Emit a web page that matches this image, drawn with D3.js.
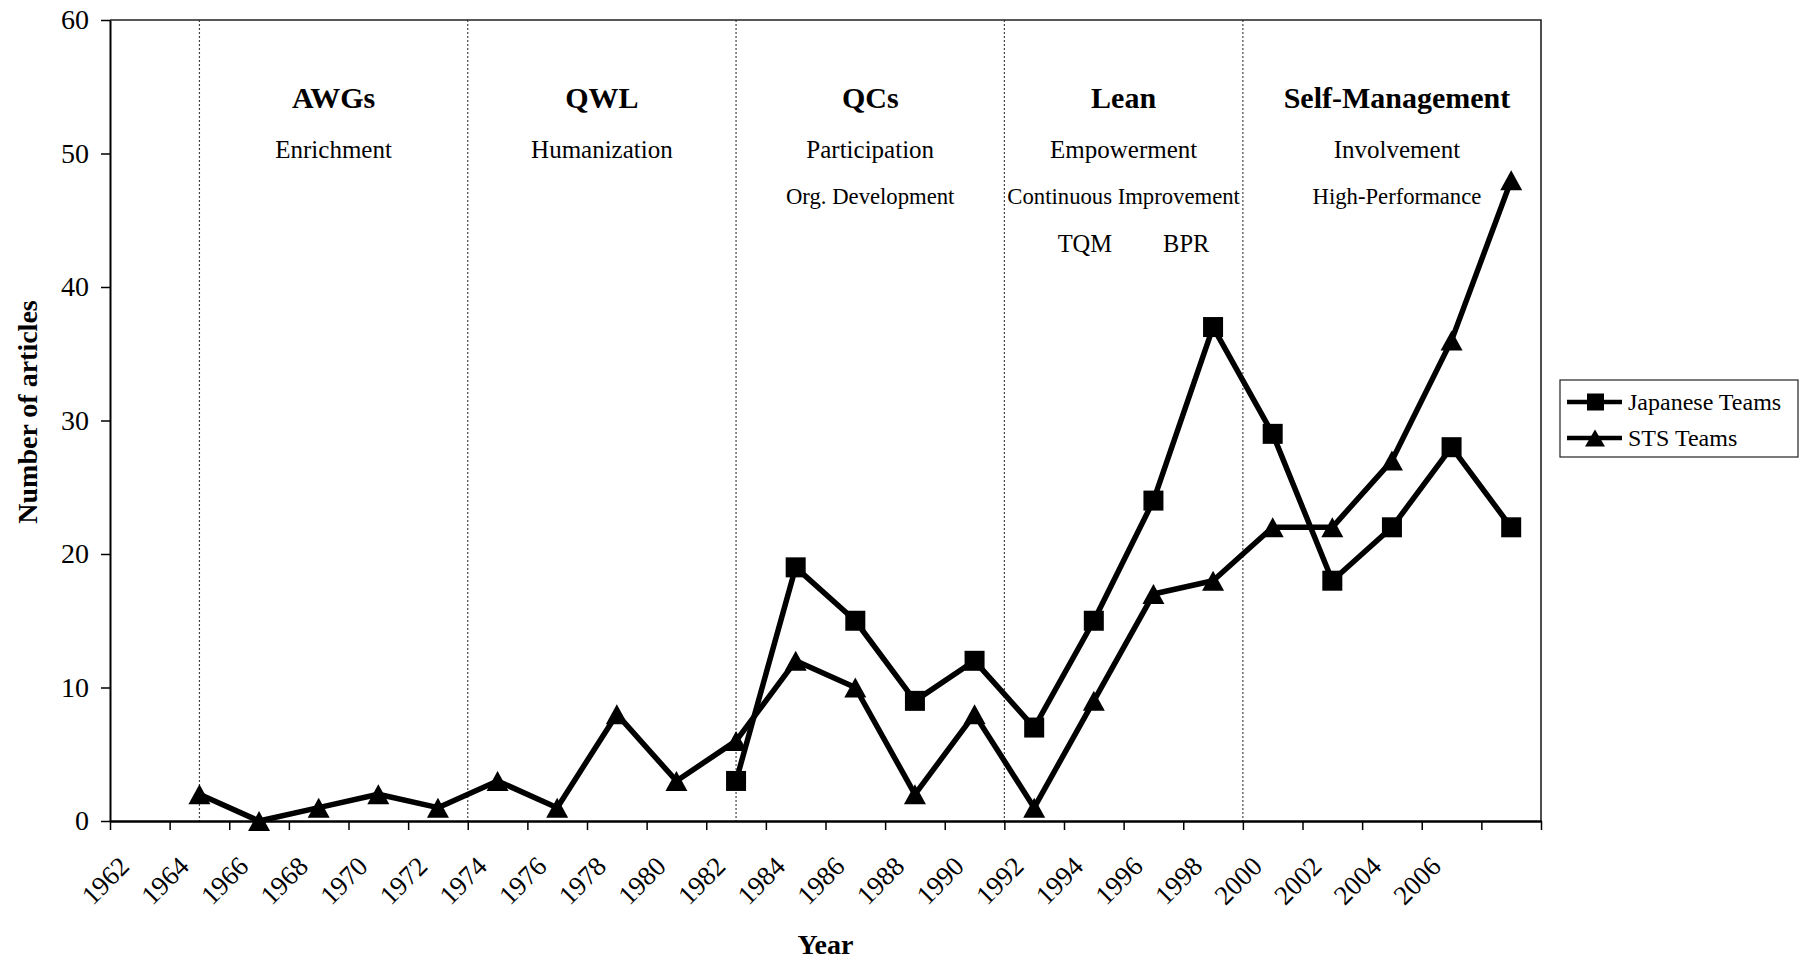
<!DOCTYPE html>
<html>
<head>
<meta charset="utf-8">
<script src="https://cdn.jsdelivr.net/npm/d3@7"></script>
<style>
  body { margin: 0; background: #fff; }
  svg { display: block; font-family: "Liberation Serif", "Times New Roman", serif; }
</style>
</head>
<body>
<div id="chart"></div>
<script>
// Categories (two-year steps), the last one carries no label
const years = [1962, 1964, 1966, 1968, 1970, 1972, 1974, 1976, 1978, 1980, 1982, 1984,
               1986, 1988, 1990, 1992, 1994, 1996, 1998, 2000, 2002, 2004, 2006, 2008];
const tickLabels = ["1962", "1964", "1966", "1968", "1970", "1972", "1974", "1976", "1978", "1980",
                    "1982", "1984", "1986", "1988", "1990", "1992", "1994", "1996", "1998", "2000",
                    "2002", "2004", "2006", ""];

// Number of articles per category
const japaneseTeams = [null, null, null, null, null, null, null, null, null, null,
                       3, 19, 15, 9, 12, 7, 15, 24, 37, 29, 18, 22, 28, 22];
const stsTeams = [null, 2, 0, 1, 2, 1, 3, 1, 8, 3, 6, 12, 10, 2, 8, 1, 9, 17, 18, 22, 22, 27, 36, 48];

const yTicks = [0, 10, 20, 30, 40, 50, 60];

// Eras: start year of each era, the chart ends in 2010
const eraStarts = [1965, 1974, 1983, 1992, 2000];
const eraTitles = ["AWGs", "QWL", "QCs", "Lean", "Self-Management"];
const eraThemes = [
    ["Enrichment"],
    ["Humanization"],
    ["Participation", "Org. Development"],
    ["Empowerment", "Continuous Improvement"],
    ["Involvement", "High-Performance"]
];
const leanExtras = ["TQM", "BPR"];
const leanExtraYears = [1994.7, 1998.1];

const W = 1803, H = 963;
const margin = { top: 20, right: 262, bottom: 142, left: 110 };
const width = W - margin.left - margin.right;
const height = H - margin.top - margin.bottom;

const svg = d3.select("#chart").append("svg")
    .attr("width", W)
    .attr("height", H);

const g = svg.append("g")
    .attr("transform", `translate(${margin.left},${margin.top})`);

const idx = d3.range(years.length);
const x = d3.scaleBand().domain(idx).range([0, width]);
const xEdge = d3.scaleLinear().domain([0, years.length]).range([0, width]);
const xYear = d3.scaleLinear().domain([1962, 2010]).range([0, width]);
const y = d3.scaleLinear().domain([0, 60]).range([height, 0]);
const cx = i => x(i) + x.bandwidth() / 2;

// Era dividers (dotted)
g.append("g").selectAll("line")
    .data(eraStarts)
    .join("line")
    .attr("x1", d => xYear(d)).attr("x2", d => xYear(d))
    .attr("y1", 0).attr("y2", height)
    .attr("stroke", "#444")
    .attr("stroke-width", 1.2)
    .attr("stroke-dasharray", "2,2");

// Era annotations
const eraEnds = eraStarts.slice(1).concat([2010]);
const eraMid = i => xYear((eraStarts[i] + eraEnds[i]) / 2) + (i === 4 ? 5 : 0);
const lineBase = [158, 204];
const ann = g.append("g").attr("fill", "#000").attr("text-anchor", "middle");
eraTitles.forEach((t, i) => {
    ann.append("text")
        .attr("x", eraMid(i)).attr("y", 108 - margin.top)
        .attr("font-size", 30).attr("font-weight", "bold")
        .text(t);
    eraThemes[i].forEach((s, j) => {
        ann.append("text")
            .attr("x", eraMid(i)).attr("y", lineBase[j] - margin.top)
            .attr("font-size", j === 0 ? 25 : 22.7)
            .text(s);
    });
});
leanExtras.forEach((s, i) => {
    ann.append("text")
        .attr("x", xYear(leanExtraYears[i])).attr("y", 252 - margin.top)
        .attr("font-size", 24.5)
        .text(s);
});

// Top and right frame
g.append("path")
    .attr("d", `M0,0H${width}V${height}`)
    .attr("fill", "none")
    .attr("stroke", "#222")
    .attr("stroke-width", 1.6);

// Y axis
const yAxis = g.append("g")
    .call(d3.axisLeft(y).tickValues(yTicks).tickSize(9).tickSizeOuter(0).tickPadding(12));
yAxis.select(".domain").attr("stroke-width", 2);
yAxis.selectAll(".tick line").attr("stroke-width", 1.5);
yAxis.selectAll("text").attr("font-size", 28).attr("font-family", "Liberation Serif").attr("fill", "#000");

// X axis: tick marks at category edges, labels at category centres
const xTickAxis = g.append("g")
    .attr("transform", `translate(0,${height})`)
    .call(d3.axisBottom(xEdge).tickValues(d3.range(years.length + 1)).tickSize(9).tickSizeOuter(0).tickFormat(""));
xTickAxis.select(".domain").attr("stroke-width", 2.5);
xTickAxis.selectAll(".tick line").attr("stroke-width", 1.5);

const xLabelAxis = g.append("g")
    .attr("transform", `translate(0,${height})`)
    .call(d3.axisBottom(x).tickSize(0).tickFormat(i => tickLabels[i]));
xLabelAxis.select(".domain").remove();
xLabelAxis.selectAll("text")
    .attr("font-size", 27)
    .attr("font-family", "Liberation Serif")
    .attr("fill", "#000")
    .attr("x", 0).attr("y", 0).attr("dy", 0)
    .attr("text-anchor", "end")
    .attr("transform", "translate(-9,47) rotate(-45)");

// Axis titles
svg.append("text")
    .attr("x", margin.left + width / 2).attr("y", 954)
    .attr("text-anchor", "middle")
    .attr("font-size", 28).attr("font-weight", "bold")
    .text("Year");

svg.append("text")
    .attr("transform", "translate(37,412) rotate(-90)")
    .attr("text-anchor", "middle")
    .attr("font-size", 28).attr("font-weight", "bold")
    .text("Number of articles");

// Series
const trianglePath = (w, h) => `M0,${-h / 2}L${w / 2},${h / 2}L${-w / 2},${h / 2}Z`;

const line = d3.line()
    .defined(d => d.v != null)
    .x(d => cx(d.i))
    .y(d => y(d.v));

const japPts = japaneseTeams.map((v, i) => ({ i, v }));
const stsPts = stsTeams.map((v, i) => ({ i, v }));

[japPts, stsPts].forEach(pts => {
    g.append("path")
        .datum(pts)
        .attr("d", line)
        .attr("fill", "none")
        .attr("stroke", "#000")
        .attr("stroke-width", 5.5)
        .attr("stroke-linejoin", "round");
});

g.append("g").selectAll("rect")
    .data(japPts.filter(d => d.v != null))
    .join("rect")
    .attr("x", d => cx(d.i) - 10)
    .attr("y", d => y(d.v) - 10)
    .attr("width", 20).attr("height", 20)
    .attr("fill", "#000");

g.append("g").selectAll("path")
    .data(stsPts.filter(d => d.v != null))
    .join("path")
    .attr("transform", d => `translate(${cx(d.i)},${y(d.v)})`)
    .attr("d", trianglePath(22, 20))
    .attr("fill", "#000");

// Legend
const legend = svg.append("g").attr("transform", "translate(1560,380)");
legend.append("rect")
    .attr("width", 238).attr("height", 77)
    .attr("fill", "#fff")
    .attr("stroke", "#222")
    .attr("stroke-width", 1.2);

const legendItems = ["Japanese Teams", "STS Teams"];
legendItems.forEach((name, k) => {
    const row = legend.append("g").attr("transform", `translate(0,${22 + k * 36})`);
    row.append("line")
        .attr("x1", 7).attr("x2", 62)
        .attr("stroke", "#000").attr("stroke-width", 4.5);
    if (k === 0) {
        row.append("rect").attr("x", 27).attr("y", -8.5).attr("width", 17).attr("height", 17).attr("fill", "#000");
    } else {
        row.append("path").attr("transform", "translate(35,0)").attr("d", trianglePath(20, 17)).attr("fill", "#000");
    }
    row.append("text")
        .attr("x", 68).attr("y", 8)
        .attr("font-size", 24)
        .text(name);
});
</script>
</body>
</html>
